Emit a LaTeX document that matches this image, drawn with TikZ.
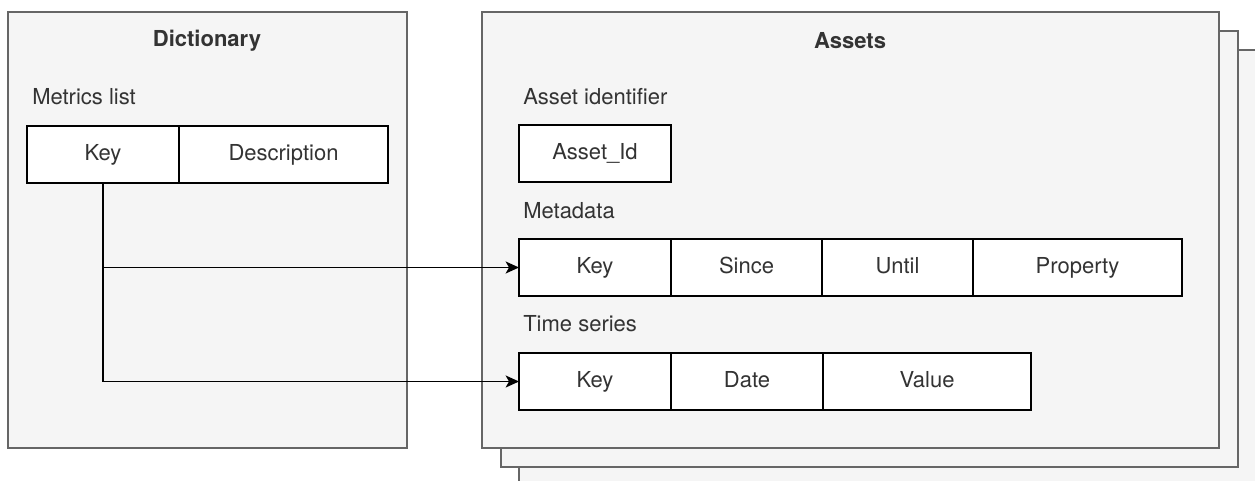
\documentclass[tikz,border=0pt]{standalone}
\usepackage{fontspec}
\setmainfont{TeX Gyre Heros}
\usetikzlibrary{arrows.meta, positioning}
\definecolor{panelfill}{HTML}{F5F5F5}
\definecolor{panelline}{HTML}{666666}
\definecolor{labeltext}{HTML}{333333}

\begin{document}
\begin{tikzpicture}[
        x=0.75pt, y=-0.75pt,
        font=\fontsize{16.5}{19}\selectfont,
        panel/.style={
            rectangle,
            draw=panelline,
            fill=panelfill,
            line width=1.2pt,
            anchor=north west,
            inner sep=0pt,
            outer sep=0pt,
            minimum width=552.75pt,
            minimum height=327pt
        },
        title/.style={
            font=\fontsize{16.5}{19}\selectfont\bfseries,
            text=labeltext
        },
        caption/.style={
            anchor=west,
            inner sep=0pt,
            text height=1.5ex,
            text depth=.3ex,
            text=labeltext
        },
        cell/.style={
            rectangle,
            draw=black,
            fill=white,
            line width=0.9pt,
            minimum height=42.75pt,
            inner sep=0pt,
            outer sep=0pt,
            text height=2.1ex,
            text depth=.3ex,
            text=labeltext
        },
        link/.style={
            -{Stealth[length=10pt, width=9pt, inset=2.5pt]},
            line width=1.2pt,
            black
        }
    ]
    \useasboundingbox (0,0) rectangle (1255,481);

    % panels
    \node[panel, minimum width=299.25pt] (dict) at (8,12) {};
    \node[panel] (assets3) at (519,50) {};
    \node[panel] (assets2) at (501,31) {};
    \node[panel] (assets) at (482,12) {};

    \node[title] (dicttitle) at (207,41) {Dictionary};
    \node[title] (assetstitle) at (850,41) {Assets};

    % dictionary
    \node[caption] (metricscap) at (32,100) {Metrics list};
    \node[cell, anchor=north west, minimum width=114pt] (mkey) at (27,126) {Key};
    \node[cell, right=0pt of mkey, minimum width=156.75pt] (mdesc) {Description};

    % assets
    \node[caption] (idcap) at (523,100) {Asset identifier};
    \node[cell, anchor=north west, minimum width=114pt] (assetid) at (519,125) {Asset\_Id};

    \node[caption] (metacap) at (523,214) {Metadata};
    \node[cell, anchor=north west, minimum width=114pt] (mdkey) at (519,239) {Key};
    \node[cell, right=0pt of mdkey, minimum width=113.25pt] (mdsince) {Since};
    \node[cell, right=0pt of mdsince, minimum width=113.25pt] (mduntil) {Until};
    \node[cell, right=0pt of mduntil, minimum width=156.75pt] (mdprop) {Property};

    \node[caption] (tscap) at (523,327) {Time series};
    \node[cell, anchor=north west, minimum width=114pt] (tskey) at (519,353) {Key};
    \node[cell, right=0pt of tskey, minimum width=114pt] (tsdate) {Date};
    \node[cell, right=0pt of tsdate, minimum width=156pt] (tsvalue) {Value};

    \draw[link] (mkey.south) |- (mdkey.west);
    \draw[link] (mkey.south) |- (tskey.west);
\end{tikzpicture}
\end{document}
